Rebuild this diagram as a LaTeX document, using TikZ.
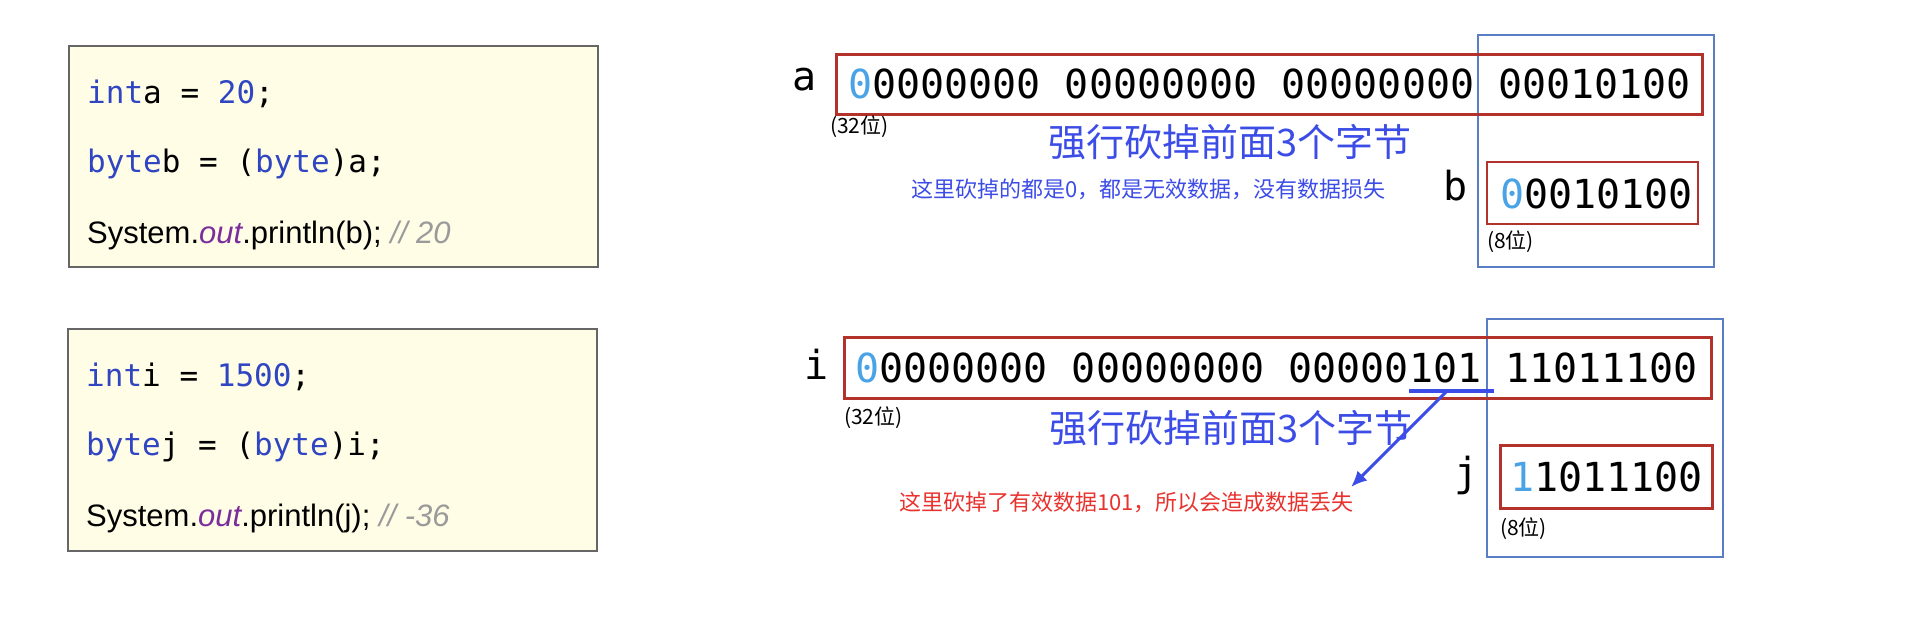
\documentclass[tikz,border=0pt]{standalone}
\usepackage{fontspec}
\setmainfont{Liberation Sans}
\setmonofont{DejaVu Sans Mono}
\newfontfamily\cjk{Noto Sans CJK SC}
\usetikzlibrary{arrows.meta}
\definecolor{codebg}{HTML}{FFFDE6}
\definecolor{kw}{HTML}{2F45C2}
\definecolor{purp}{HTML}{7B2D9B}
\definecolor{gr}{HTML}{9A9A9A}
\definecolor{redbox}{HTML}{B3322B}
\definecolor{bluebox}{HTML}{5A7EC6}
\definecolor{bluetxt}{HTML}{3C4CE6}
\definecolor{bitblue}{HTML}{4AA3E6}
\definecolor{redtxt}{HTML}{E8322E}
\tikzset{
 codebox/.style={draw=black!60, line width=1.2pt, fill=codebg},
 codeline/.style={anchor=west, inner sep=0, font=\fontsize{31}{31}\selectfont},
 bits/.style={anchor=west, inner sep=0, font=\ttfamily\fontsize{40}{40}\selectfont},
 varname/.style={anchor=center, inner sep=0, font=\ttfamily\fontsize{40}{40}\selectfont},
 small/.style={anchor=west, inner sep=0, font=\cjk\fontsize{22}{22}\selectfont},
 redframe/.style={draw=redbox, line width=3pt},
 blueframe/.style={draw=bluebox, line width=2.5pt},
}
\begin{document}
\begin{tikzpicture}[x=1pt,y=-1pt]
\useasboundingbox (0,0) rectangle (1928,624);
% code boxes
\draw[codebox] (69,46) rectangle (598,267);
\node[codeline] (c1) at (87,94) {\ttfamily\color{kw}int\color{black} a = \color{kw}20\color{black};};
\node[codeline] (c2) at (87,164) {\ttfamily\color{kw}byte\color{black} b =  (\color{kw}byte\color{black})a;};
\node[codeline] (c3) at (87,235) {System.\textcolor{purp}{\itshape out}.println(b); \textcolor{gr}{\itshape // 20}};
\draw[codebox] (68,329) rectangle (597,551);
\node[codeline] (d1) at (86,377) {\ttfamily\color{kw}int\color{black} i = \color{kw}1500\color{black};};
\node[codeline] (d2) at (86,447) {\ttfamily\color{kw}byte\color{black} j =  (\color{kw}byte\color{black})i;};
\node[codeline] (d3) at (86,518) {System.\textcolor{purp}{\itshape out}.println(j); \textcolor{gr}{\itshape // -36}};
% top diagram
\draw[blueframe] (1478,35) rectangle (1714,267);
\draw[redframe] (836,54) rectangle (1702,114);
\node[varname] (a) at (805,80) {a};
\node[bits] (abits) at (848,84) {\textcolor{bitblue}{0}0000000 00000000 00000000 00010100};
\node[small, font=\cjk\fontsize{21}{21}\selectfont] (a32) at (830,127) {(32位)};
\node[anchor=center, inner sep=0, text=bluetxt, font=\cjk\fontsize{38}{38}\selectfont] (t1) at (1230,142) {强行砍掉前面3个字节};
\node[small, text=bluetxt] (n1) at (911,189) {这里砍掉的都是0，都是无效数据，没有数据损失};
\node[varname] (b) at (1456,186) {b};
\draw[redframe, line width=2pt] (1487,162) rectangle (1698,224);
\node[bits] (bbits) at (1500,194) {\textcolor{bitblue}{0}0010100};
\node[small, font=\cjk\fontsize{21}{21}\selectfont] (b8) at (1487,242) {(8位)};
% bottom diagram
\draw[blueframe] (1487,319) rectangle (1723,557);
\draw[redframe] (844,337) rectangle (1711,398);
\node[varname] (i) at (817,364) {i};
\node[bits] (ibits) at (855,368) {\textcolor{bitblue}{0}0000000 00000000 00000101 11011100};
\node[small, font=\cjk\fontsize{21}{21}\selectfont] (i32) at (844,418) {(32位)};
\node[anchor=center, inner sep=0, text=bluetxt, font=\cjk\fontsize{38}{38}\selectfont] (t2) at (1231,428) {强行砍掉前面3个字节};
\node[varname] (j) at (1467,475) {j};
\draw[redframe] (1500,445) rectangle (1712,508);
\node[bits] (jbits) at (1510,477) {\textcolor{bitblue}{1}1011100};
\node[small, font=\cjk\fontsize{21}{21}\selectfont] (j8) at (1500,529) {(8位)};
\node[small, text=redtxt] (n2) at (899,502) {这里砍掉了有效数据101，所以会造成数据丢失};
\coordinate (u1) at (1409,391);
\coordinate (u2) at (1494,391);
\coordinate (s) at (1446,392);
\coordinate (e) at (1351,487);
\draw[bluetxt, line width=4pt] (u1) -- (u2);
\draw[bluetxt, line width=3pt, -{Latex[length=16pt,width=14pt]}] (s) -- (e);
\end{tikzpicture}
\end{document}
